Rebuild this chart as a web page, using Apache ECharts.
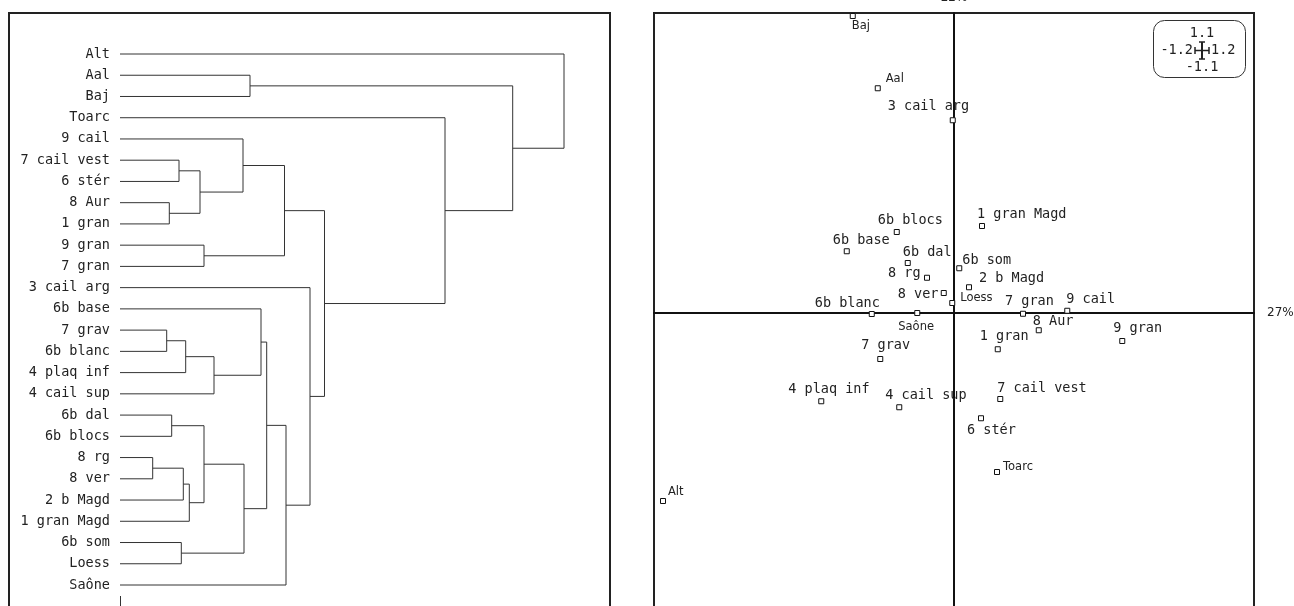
<!DOCTYPE html>
<html>
<head>
<meta charset="utf-8">
<script src="https://cdn.jsdelivr.net/npm/echarts@6/dist/echarts.min.js"></script>
<style>
html, body { margin: 0; padding: 0; background: #fff; }
#chart { width: 1294px; height: 606px; }
</style>
</head>
<body>
<div id="chart"></div>
<script>
// dendrogram leaves, top to bottom
const leaves = ['Alt', 'Aal', 'Baj', 'Toarc', '9 cail', '7 cail vest', '6 stér', '8 Aur', '1 gran',
  '9 gran', '7 gran', '3 cail arg', '6b base', '7 grav', '6b blanc', '4 plaq inf', '4 cail sup',
  '6b dal', '6b blocs', '8 rg', '8 ver', '2 b Magd', '1 gran Magd', '6b som', 'Loess', 'Saône'];

// merges like hclust: negative = leaf (1-based), positive = earlier merge; last = height
const merges = [
  [-20, -21, 32.7], [-14, -15, 46.7], [-8, -9, 49.3], [-18, -19, 51.7], [-6, -7, 59],
  [-24, -25, 61.3], [1, -22, 63.3], [2, -16, 65.7], [7, -23, 69.3], [5, 3, 80],
  [-10, -11, 84], [4, 9, 84], [8, -17, 94], [-5, 10, 123], [12, 6, 124],
  [-2, -3, 130], [-13, 13, 141], [17, 15, 146.7], [14, 11, 164.5], [18, -26, 166],
  [-12, 20, 190], [19, 21, 204.5], [-4, 22, 325], [16, 23, 392.7], [-1, 24, 444]
];

// first factorial plane
const pointNames = ['Alt', 'Aal', 'Baj', 'Toarc', '9 cail', '7 cail vest', '6 stér', '8 Aur', '1 gran',
  '9 gran', '7 gran', '3 cail arg', '6b base', '7 grav', '6b blanc', '4 plaq inf', '4 cail sup',
  '6b dal', '6b blocs', '8 rg', '8 ver', '2 b Magd', '1 gran Magd', '6b som', 'Loess', 'Saône'];
const pointX = [-1.164, -0.305, -0.405, 0.172, 0.453, 0.185, 0.108, 0.339, 0.175,
  0.673, 0.276, -0.005, -0.429, -0.295, -0.329, -0.531, -0.219,
  -0.185, -0.229, -0.108, -0.041, 0.060, 0.112, 0.021, -0.007, -0.147];
const pointY = [-0.752, 0.899, 1.188, -0.636, 0.009, -0.344, -0.421, -0.069, -0.145,
  -0.112, -0.003, 0.771, 0.247, -0.184, -0.004, -0.353, -0.377,
  0.200, 0.324, 0.141, 0.080, 0.103, 0.348, 0.179, 0.040, 0.000];
const axisNames = ['27%', '22%'];
const scaleX = ['-1.2', '1.2'];
const scaleY = ['-1.1', '1.1'];

// label placement (px offsets from the point), small sans labels
const labelOffset = {
  'Baj': [-1, 10], 'Aal': [8, -9], '3 cail arg': [-65, -14], '1 gran Magd': [-5, -12],
  '6b blocs': [-19, -12], '6b base': [-14, -11], '6b dal': [-5, -11], '6b som': [3, -8],
  '8 rg': [-39, -4], '2 b Magd': [10, -9], '8 ver': [-46, 1], 'Loess': [8, -5],
  '6b blanc': [-57, -11], 'Saône': [-19, 14], '7 gran': [-18, -12], '9 cail': [-1, -11],
  '8 Aur': [-6, -9], '1 gran': [-18, -13], '9 gran': [-9, -13], '7 grav': [-19, -14],
  '4 plaq inf': [-33, -12], '4 cail sup': [-14, -12], '7 cail vest': [-3, -11],
  '6 stér': [-14, 12], 'Toarc': [6, -5], 'Alt': [5, -9]
};
const sansLabels = ['Baj', 'Aal', 'Loess', 'Saône', 'Toarc', 'Alt'];

const MONO = 'DejaVu Sans Mono';
const SANS = 'DejaVu Sans';

// build dendrogram links: [hLeft, yLeft, hRight, yRight, h]
const nodeH = [], nodeY = [];
function childPos(c) {
  return c < 0 ? [0, -c - 1] : [nodeH[c - 1], nodeY[c - 1]];
}
const links = merges.map(([a, b, h]) => {
  const [ha, ya] = childPos(a);
  const [hb, yb] = childPos(b);
  nodeH.push(h);
  nodeY.push((ya + yb) / 2);
  return [ha, ya, hb, yb, h];
});

const points = pointNames.map((n, i) => {
  const sans = sansLabels.includes(n);
  return {
    name: n,
    value: [pointX[i], pointY[i]],
    label: {
      offset: labelOffset[n],
      fontFamily: sans ? SANS : MONO,
      fontSize: sans ? 11.5 : 13.5
    }
  };
});

const chart = echarts.init(document.getElementById('chart'), null, { renderer: 'canvas' });

chart.setOption({
  animation: false,
  backgroundColor: '#fff',
  grid: [
    { left: 120, top: 54, width: 444, height: 531, outerBoundsMode: 'none', containLabel: false },
    { left: 654, top: 13, width: 600, height: 600, outerBoundsMode: 'none', containLabel: false,
      show: true, borderColor: '#222', borderWidth: 2, backgroundColor: 'transparent' }
  ],
  xAxis: [
    { gridIndex: 0, type: 'value', min: 0, max: 444, show: false },
    { gridIndex: 1, type: 'value', min: -1.2, max: 1.2,
      axisLine: { onZero: true, lineStyle: { color: '#111', width: 2 } },
      axisTick: { show: false }, axisLabel: { show: false }, splitLine: { show: false },
      name: axisNames[0], nameLocation: 'end', nameGap: 13,
      nameTextStyle: { fontFamily: SANS, fontSize: 12, color: '#222' } }
  ],
  yAxis: [
    { gridIndex: 0, type: 'value', min: 0, max: 25, interval: 1, inverse: true,
      axisLine: { show: false }, axisTick: { show: false }, splitLine: { show: false },
      axisLabel: { margin: 10, fontFamily: MONO, fontSize: 13.5, color: '#222',
        formatter: v => leaves[v] ?? '' } },
    { gridIndex: 1, type: 'value', min: -1.2, max: 1.2,
      axisLine: { onZero: true, lineStyle: { color: '#111', width: 2 } },
      axisTick: { show: false }, axisLabel: { show: false }, splitLine: { show: false },
      name: axisNames[1], nameLocation: 'end', nameGap: 9,
      nameTextStyle: { fontFamily: SANS, fontSize: 12, color: '#222' } }
  ],
  series: [
    {
      type: 'custom',
      xAxisIndex: 0, yAxisIndex: 0,
      data: links,
      silent: true,
      renderItem: (params, api) => {
        const pts = [
          [api.value(0), api.value(1)], [api.value(4), api.value(1)],
          [api.value(4), api.value(3)], [api.value(2), api.value(3)]
        ].map(p => api.coord(p));
        return {
          type: 'polyline',
          shape: { points: pts },
          style: { stroke: '#333', lineWidth: 1, fill: null }
        };
      }
    },
    {
      type: 'scatter',
      xAxisIndex: 1, yAxisIndex: 1,
      symbol: 'rect', symbolSize: 5,
      itemStyle: { color: '#fff', borderColor: '#111', borderWidth: 1, opacity: 1 },
      label: {
        show: true, position: 'inside', align: 'left', verticalAlign: 'middle',
        color: '#222', formatter: p => p.name
      },
      data: points
    }
  ],
  graphic: [
    // left frame
    { type: 'rect', shape: { x: 9, y: 13, width: 601, height: 600 },
      style: { fill: null, stroke: '#222', lineWidth: 2 }, silent: true },
    // start of the height scale
    { type: 'line', shape: { x1: 120.5, y1: 596, x2: 120.5, y2: 606 },
      style: { stroke: '#333', lineWidth: 1 }, silent: true },
    // scale box
    { type: 'rect', shape: { x: 1153.5, y: 20.5, width: 92, height: 57, r: 11 },
      style: { fill: null, stroke: '#333', lineWidth: 1 }, silent: true },
    { type: 'text', style: { x: 1202, y: 33, text: scaleY[1], align: 'center', verticalAlign: 'middle',
      font: '13.5px "DejaVu Sans Mono"', fill: '#222' } },
    { type: 'text', style: { x: 1202, y: 67, text: scaleY[0], align: 'center', verticalAlign: 'middle',
      font: '13.5px "DejaVu Sans Mono"', fill: '#222' } },
    { type: 'text', style: { x: 1193, y: 50, text: scaleX[0], align: 'right', verticalAlign: 'middle',
      font: '13.5px "DejaVu Sans Mono"', fill: '#222' } },
    { type: 'text', style: { x: 1211, y: 50, text: scaleX[1], align: 'left', verticalAlign: 'middle',
      font: '13.5px "DejaVu Sans Mono"', fill: '#222' } },
    { type: 'line', shape: { x1: 1195, y1: 50.5, x2: 1209, y2: 50.5 }, style: { stroke: '#222', lineWidth: 1.5 } },
    { type: 'line', shape: { x1: 1195, y1: 47, x2: 1195, y2: 54 }, style: { stroke: '#222', lineWidth: 1.5 } },
    { type: 'line', shape: { x1: 1209, y1: 47, x2: 1209, y2: 54 }, style: { stroke: '#222', lineWidth: 1.5 } },
    { type: 'line', shape: { x1: 1202, y1: 42, x2: 1202, y2: 59 }, style: { stroke: '#222', lineWidth: 2 } },
    { type: 'line', shape: { x1: 1199, y1: 42, x2: 1205, y2: 42 }, style: { stroke: '#222', lineWidth: 1.5 } },
    { type: 'line', shape: { x1: 1199, y1: 59, x2: 1205, y2: 59 }, style: { stroke: '#222', lineWidth: 1.5 } }
  ]
});
</script>
</body>
</html>
